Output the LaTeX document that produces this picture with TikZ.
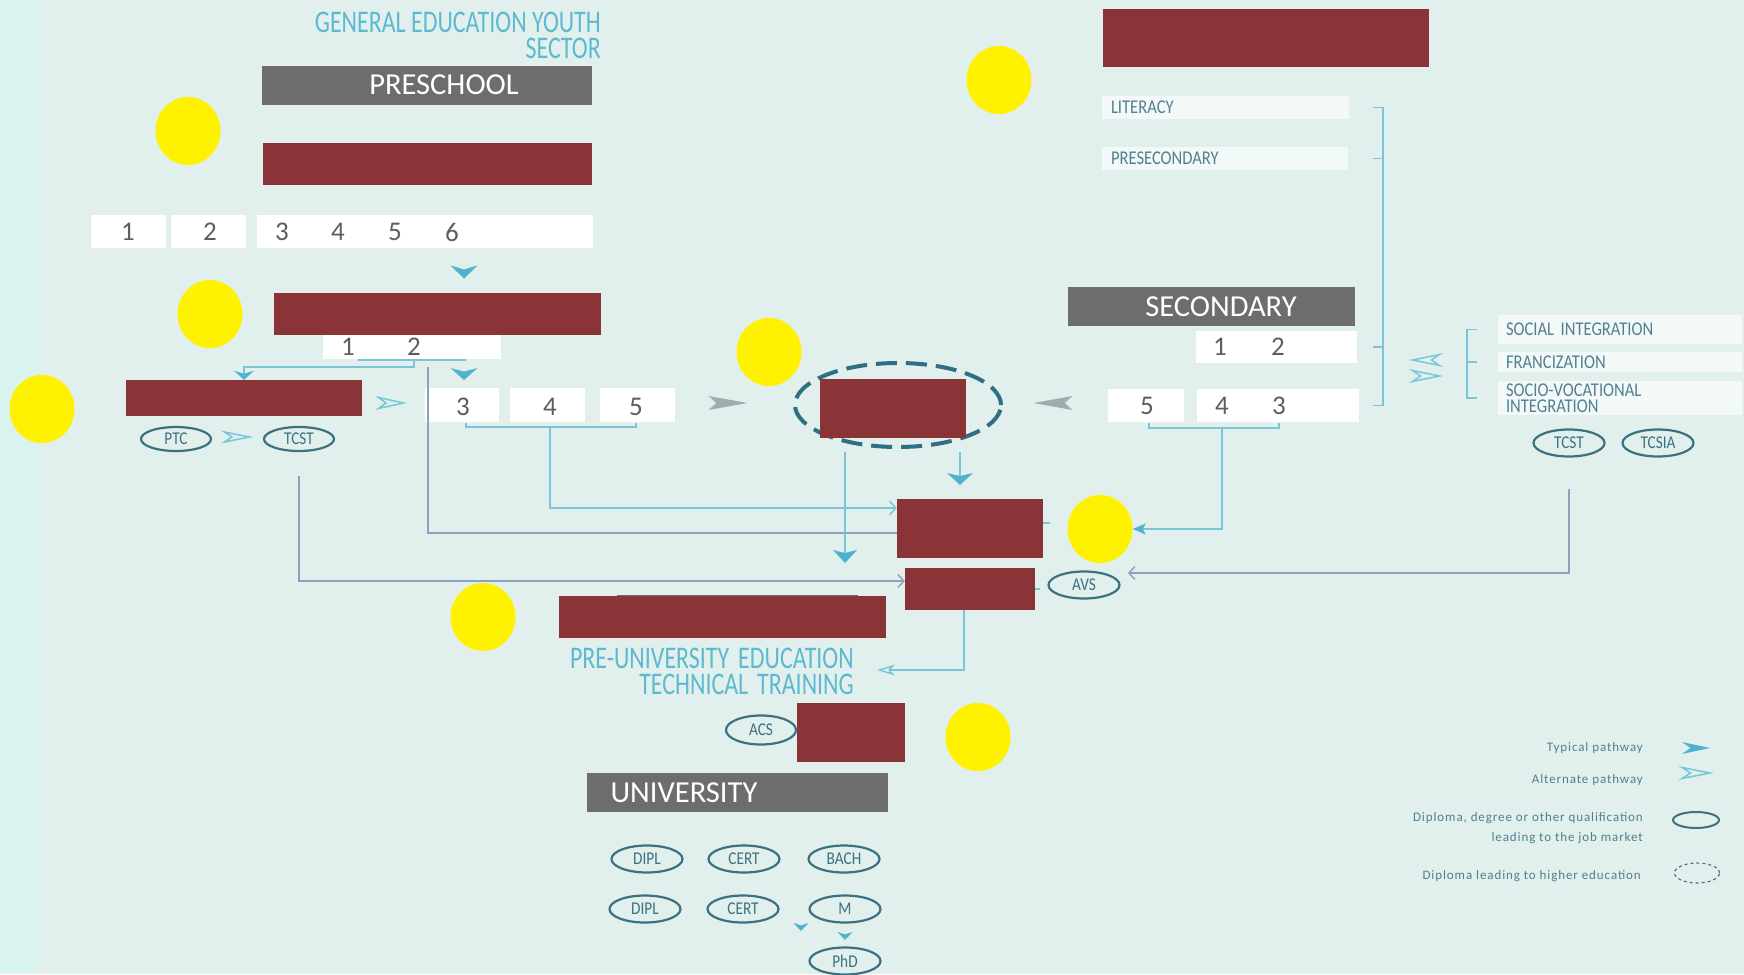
\documentclass[tikz,border=0pt]{standalone}
\usepackage{fontspec}
\setmainfont{Carlito}
\newfontfamily\hdfont[FakeStretch=0.76]{Carlito}
\newfontfamily\lblfont[FakeStretch=0.85]{Carlito}
\newfontfamily\legfont[LetterSpace=7]{Carlito}
\usetikzlibrary{shapes.geometric, arrows.meta, positioning}
\usepackage{xcolor}
\definecolor{bgmint}{HTML}{E1F0EC}
\definecolor{stripmint}{HTML}{D9F3EF}
\definecolor{bargrey}{HTML}{6D6D6D}
\definecolor{redact}{HTML}{8A3437}
\definecolor{numgrey}{HTML}{5E5E5E}
\definecolor{hdblue}{HTML}{5DB9D0}
\definecolor{lbltxt}{HTML}{52818E}
\definecolor{qualteal}{HTML}{3B7181}
\definecolor{dashteal}{HTML}{2F6E84}
\definecolor{linecyan}{HTML}{7CC4D7}
\definecolor{lineslate}{HTML}{8AA2BF}
\definecolor{tipblue}{HTML}{4FB3D0}
\definecolor{altcyan}{HTML}{78C6DA}
\definecolor{tipgrey}{HTML}{9CAEB0}
\definecolor{paleboxfill}{HTML}{F3F9F8}
\definecolor{legteal}{HTML}{4F8090}

\begin{document}
\begin{tikzpicture}[x=1pt, y=-1pt,
  bar/.style={rectangle, fill=bargrey, text=white, inner sep=0, minimum height=39pt,
    font=\fontsize{30.5}{30.5}\selectfont},
  redbox/.style={rectangle, fill=redact, inner sep=0},
  dot/.style={ellipse, fill=yellow, inner sep=0, minimum width=65pt, minimum height=68pt},
  numbox/.style={rectangle, fill=white, inner sep=0, minimum height=33pt},
  digit/.style={inner sep=0, text=numgrey, font=\fontsize{27}{27}\selectfont},
  hdtext/.style={inner sep=0, text=hdblue, align=right, font=\hdfont\fontsize{31.5}{25.5}\selectfont},
  tagbox/.style={rectangle, fill=paleboxfill, inner sep=0, minimum height=23pt, align=left,
    text=lbltxt, font=\lblfont\fontsize{19.5}{16}\selectfont},
  qual/.style={ellipse, draw=qualteal, line width=2.2pt, inner sep=0, minimum width=71pt,
    minimum height=27pt, text=qualteal, font=\lblfont\fontsize{18}{18}\selectfont},
  hsdiploma/.style={ellipse, draw=dashteal, line width=4pt, dash pattern=on 21pt off 9pt,
    inner sep=0, minimum width=206pt, minimum height=84pt},
  legtext/.style={inner sep=0, text=legteal, align=right, font=\legfont\fontsize{13}{20}\selectfont},
  cyanline/.style={draw=linecyan, line width=1.6pt},
  slateline/.style={draw=lineslate, line width=1.8pt},
  typarrow/.style 2 args={-{Stealth[length=#1, width=#2, inset=3pt, color=tipblue]}},
  altarrow/.style={-{Stealth[open, length=18pt, width=11pt, inset=5pt, line width=1.4pt, color=altcyan]}},
  thinarrow/.style={-{Straight Barb[length=6pt, width=13pt, line width=1.4pt]}},
  ttri/.pic={\fill[tipblue] (0.5,0) -- (-0.5,0.5) -- (-0.2,0) -- (-0.5,-0.5) -- cycle;},
  otri/.pic={\draw[altcyan, line width=1.5pt] (0.5,0) -- (-0.5,0.5) -- (-0.2,0) -- (-0.5,-0.5) -- cycle;},
  gtri/.pic={\fill[tipgrey] (0.5,0) -- (-0.5,0.5) -- (-0.3,0) -- (-0.5,-0.5) -- cycle;}
]
\useasboundingbox (0,0) rectangle (1744,974);
\fill[bgmint] (0,0) rectangle (1744,974);
\fill[stripmint] (0,0) rectangle (36,974);

\node (title) [hdtext, anchor=north east] at (601,12) {GENERAL EDUCATION YOUTH\\SECTOR};
\node (preschool) [bar, minimum width=330pt] at (427,85) {\hspace*{34pt}PRESCHOOL};
\node (red1) [redbox, minimum width=329pt, minimum height=42pt] at (427.5,164) {};
\node (dot1) [dot] at (188,131) {};

\node (k1) [numbox, minimum width=75pt] at (128.5,231.5) {};
\node (k2) [numbox, minimum width=75pt, right=5pt of k1] {};
\node (k3) [numbox, minimum width=336pt, right=10pt of k2] {};
\foreach \d/\x in {1/128,2/210,3/282,4/338,5/395,6/452}
  \node (p\d) [digit] at (\x,232) {\d};
\pic[rotate=-90, xscale=13, yscale=27] at (464,272) {ttri};

\node (q12) [numbox, minimum width=178pt, minimum height=25pt] at (412,346.5) {};
\node (red2) [redbox, minimum width=327pt, minimum height=42pt] at (437.5,314) {};
\node (dot2) [dot] at (210,314) {};
\node (q1) [digit] at (348,347) {1};
\node (q2) [digit] at (414,347) {2};
\pic[rotate=-90, xscale=12, yscale=27] at (464,374) {ttri};

\node (red3) [redbox, minimum width=236pt, minimum height=36pt] at (244,398) {};
\node (dot3) [dot] at (42,409) {};
\pic[xscale=25, yscale=11] at (391,403) {otri};
\node (r3box) [numbox, minimum width=74pt, minimum height=34pt] at (462,405) {};
\node (r4box) [numbox, minimum width=75pt, minimum height=34pt, right=11pt of r3box] {};
\node (r5box) [numbox, minimum width=75pt, minimum height=34pt, right=14pt of r4box] {};
\foreach \d/\x in {3/463,4/550,5/636}
  \node (r\d) [digit] at (\x,407) {\d};
\pic[xscale=39, yscale=14] at (728,403) {gtri};

\node (ptc) [qual, minimum width=70pt, minimum height=24pt] at (176,439) {PTC};
\pic[xscale=25, yscale=10] at (237,437) {otri};
\node (tcstl) [qual, minimum width=70pt, minimum height=24pt] at (299,439) {TCST};

\node (hsdip) [hsdiploma] at (898,405) {};
\node (redc) [redbox, minimum width=146pt, minimum height=59pt] at (893,408.5) {};
\node (dot4) [dot] at (769,352) {};
\pic[rotate=180, xscale=39, yscale=14] at (1053,403) {gtri};

\node (redtop) [redbox, minimum width=326pt, minimum height=58pt] at (1266,38) {};
\node (dot5) [dot] at (999,80) {};
\node (literacy) [tagbox, minimum width=247pt, text width=229pt] at (1225.5,107.5) {LITERACY};
\node (presec) [tagbox, minimum width=246pt, text width=228pt] at (1225,158.5) {PRESECONDARY};

\node (secondary) [bar, minimum width=287pt] at (1211.5,306.5) {\hspace*{19pt}SECONDARY};
\node (s12) [numbox, minimum width=161pt, minimum height=32pt] at (1276.5,347) {};
\node (s1) [digit] at (1220,347) {1};
\node (s2) [digit] at (1278,347) {2};
\node (s5box) [numbox, minimum width=76pt] at (1146,405.5) {};
\node (s43) [numbox, minimum width=162pt, right=13pt of s5box] {};
\foreach \d/\x in {5/1147,4/1222,3/1279}
  \node (t\d) [digit] at (\x,406) {\d};

\pic[rotate=180, xscale=27, yscale=11] at (1426,360) {otri};
\pic[xscale=27, yscale=11] at (1426,376) {otri};
\node (socint) [tagbox, minimum width=244pt, minimum height=29pt, text width=228pt] at (1620,329.5) {SOCIAL INTEGRATION};
\node (franc) [tagbox, minimum width=244pt, minimum height=20pt, text width=228pt] at (1620,362) {FRANCIZATION};
\node (sociovoc) [tagbox, minimum width=244pt, minimum height=34pt, text width=228pt] at (1620,398) {SOCIO-VOCATIONAL\\INTEGRATION};
\node (tcstr) [qual] at (1569,443) {TCST};
\node (tcsia) [qual] at (1658,443) {TCSIA};

\node (red4) [redbox, minimum width=146pt, minimum height=59pt] at (970,528.5) {};
\node (dot6) [dot] at (1100,529) {};
\node (red5) [redbox, minimum width=130pt, minimum height=42pt] at (970,589) {};
\node (avs) [qual] at (1084,585) {AVS};

\node (collegebar) [bar, minimum width=241pt, minimum height=10pt] at (737.5,600) {};
\node (red6) [redbox, minimum width=327pt, minimum height=42pt] at (722.5,617) {};
\node (dot7) [dot] at (483,617) {};
\node (preu) [hdtext, anchor=north east] at (854,648) {PRE-UNIVERSITY\hspace{9pt}EDUCATION\\TECHNICAL\hspace{9pt}TRAINING};

\node (acs) [qual, minimum width=70pt, minimum height=29pt] at (761,730) {ACS};
\node (red7) [redbox, minimum width=108pt, minimum height=59pt] at (851,732.5) {};
\node (dot8) [dot] at (978,737) {};

\node (university) [bar, minimum width=301pt] at (737.5,792.5) {UNIVERSITY\hspace*{107pt}};
\node (dipl1) [qual] at (647,859) {DIPL};
\node (cert1) [qual] at (744,859) {CERT};
\node (bach) [qual] at (844,859) {BACH};
\node (dipl2) [qual] at (645,909) {DIPL};
\node (cert2) [qual] at (743,909) {CERT};
\node (mast) [qual] at (845,909) {M};
\node (phd) [qual] at (845,961) {PhD};
\pic[rotate=-90, xscale=8, yscale=15] at (801,927) {ttri};
\pic[rotate=-90, xscale=8, yscale=15] at (845,936) {ttri};

\node (legtyp) [legtext, anchor=base east] at (1643,751) {Typical pathway};
\node (legalt) [legtext, anchor=base east] at (1643,783) {Alternate pathway};
\node (legjob) [legtext, anchor=base east] at (1643,821) {Diploma, degree or other qualification};
\node (legjob2) [legtext, anchor=base east] at (1643,841) {leading to the job market};
\node (leghigh) [legtext, anchor=base east] at (1641,879) {Diploma leading to higher education};
\pic[xscale=28, yscale=12] at (1696,748) {ttri};
\pic[xscale=28, yscale=11] at (1696,773) {otri};
\node (legqual) [ellipse, draw=qualteal, line width=2pt, minimum width=46pt, minimum height=16pt, inner sep=0] at (1696,820) {};
\node (leghs) [ellipse, draw=qualteal, line width=1.1pt, dash pattern=on 3pt off 3pt, minimum width=45pt, minimum height=20pt, inner sep=0] at (1697,873) {};

\coordinate (pbl) at (358,360);
\coordinate (pbr) at (466,360);
\coordinate (drop2) at (428,367);
\coordinate (sb3) at (466,427);
\coordinate (sb5) at (636,427);
\coordinate (hsl) at (845,452);
\coordinate (hslend) at (845,563);
\coordinate (hsr) at (960,452);
\coordinate (hsrend) at (960,485);
\coordinate (tb5) at (1149,428);
\coordinate (tb3) at (1279,428);
\coordinate (avsin) at (1128,573);
\coordinate (preuin) at (877,670);
\coordinate (brx) at (1383,0);
\coordinate (sbx) at (1467,0);

\draw [cyanline] (pbl) -- (pbr);
\draw [cyanline, typarrow={9pt}{20pt}] (q2 |- pbl) -- ++(0,7) -| (red3.north);
\draw [slateline] (drop2) |- ([yshift=-4.5pt]red4.west);
\draw [cyanline] (sb3) ++(0,-4) -- (sb3) -- (sb5) -- ++(0,-4);
\draw [cyanline, thinarrow] (r4 |- sb3) |- ([yshift=20.5pt]red4.west);
\draw [slateline, thinarrow] ([yshift=-24pt]tcstl.south) |- ([yshift=8pt]red5.west);
\draw [cyanline, typarrow={13pt}{24pt}] (hsl) -- (hslend);
\draw [cyanline, typarrow={12pt}{26pt}] (hsr) -- (hsrend);
\draw [cyanline] (tb5) ++(0,-5) -- (tb5) -- (tb3) -- ++(0,-5);
\draw [cyanline, typarrow={13pt}{11pt}] (t4 |- tb5) |- (dot6.east);
\draw [cyanline] ([yshift=5.5pt]red4.east) -- ++(7,0);
\draw [cyanline] (red5.east) -- ++(5,0);
\draw [slateline, thinarrow] ([yshift=-31pt]tcstr.south) |- (avsin);
\draw [cyanline, altarrow] ([xshift=-6pt]red5.south) |- (preuin);
\draw [cyanline] ([xshift=-10pt]brx |- literacy) -- (brx |- literacy) -- (brx |- s43) -- ++(-10,0);
\draw [cyanline] (brx |- presec) -- ++(-10,0);
\draw [cyanline] (brx |- s12) -- ++(-10,0);
\draw [cyanline] ([xshift=10pt]sbx |- socint) -- (sbx |- socint) -- (sbx |- sociovoc) -- ++(10,0);
\draw [cyanline] (sbx |- franc) -- ++(10,0);

\end{tikzpicture}
\end{document}
